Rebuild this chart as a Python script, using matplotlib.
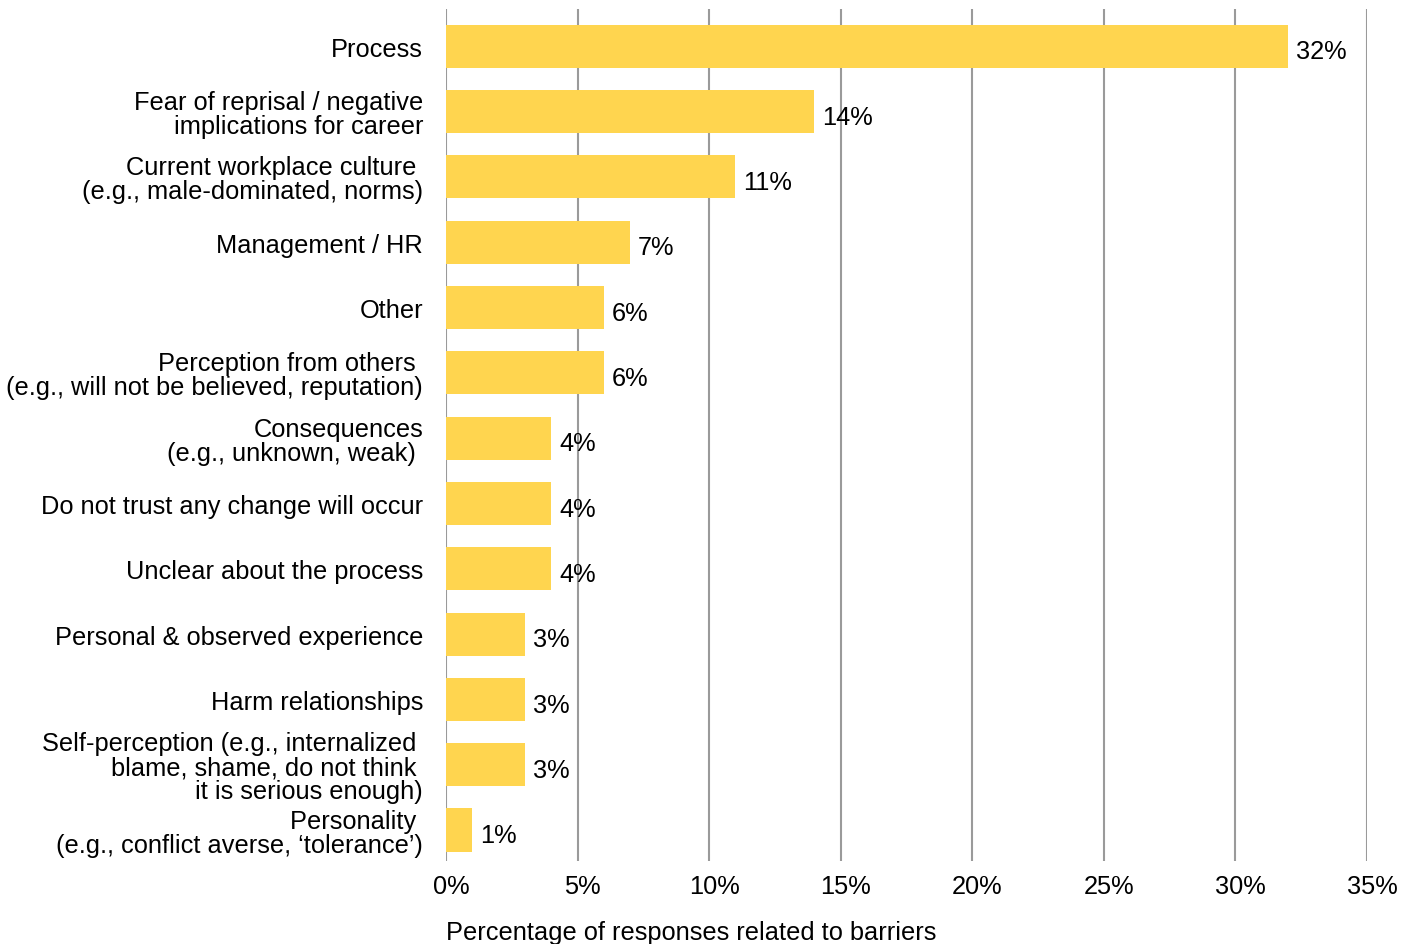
import matplotlib
matplotlib.use("Agg")
import matplotlib.pyplot as plt
from matplotlib.ticker import FuncFormatter
from matplotlib.transforms import ScaledTranslation

# ── Data ──────────────────────────────────────────────────────────────────────

barriers = [
    "Process",
    "Fear of reprisal / negative\nimplications for career",
    "Current workplace culture \n(e.g., male-dominated, norms)",
    "Management / HR",
    "Other",
    "Perception from others \n(e.g., will not be believed, reputation)",
    "Consequences\n(e.g., unknown, weak) ",
    "Do not trust any change will occur",
    "Unclear about the process",
    "Personal & observed experience",
    "Harm relationships",
    "Self-perception (e.g., internalized \nblame, shame, do not think \nit is serious enough)",
    "Personality \n(e.g., conflict averse, \u2018tolerance\u2019)",
]
percent = [32, 14, 11, 7, 6, 6, 4, 4, 4, 3, 3, 3, 1]
x_ticks = [0, 5, 10, 15, 20, 25, 30, 35]

BAR_COLOR = "#FFD54F"
GRID_COLOR = "#9a9a9a"
FS = 18.3

plt.rcParams["font.family"] = ["Liberation Sans", "DejaVu Sans"]

fig = plt.figure(figsize=(14.14, 9.45), dpi=100)
ax = fig.add_axes([0.3154, 0.0878, 0.6514, 0.9016])

pos = list(range(len(barriers)))
ax.barh(pos, percent, height=0.66, color=BAR_COLOR, zorder=1)

for y, v in zip(pos, percent):
    ax.text(v + 0.3, y + 0.08, f"{v}%", va="center", ha="left",
            fontsize=FS, color="black", zorder=3)

ax.set_xlim(0, 35)
ax.set_ylim(len(barriers) - 1 + 0.475, -0.57)
ax.set_xticks(x_ticks)
ax.xaxis.set_major_formatter(FuncFormatter(lambda v, _: f"{v:.0f}%"))
ax.set_yticks(pos)
ax.set_yticklabels(barriers, fontsize=FS, linespacing=1.0)
ax.tick_params(axis="y", length=0, pad=16.5)
ax.tick_params(axis="x", length=0, pad=9, labelsize=FS)

# nudge the percent tick labels slightly right of their gridlines
shift = ScaledTranslation(5 / 100, 0, fig.dpi_scale_trans)
for lbl in ax.get_xticklabels():
    lbl.set_transform(lbl.get_transform() + shift)

ax.grid(axis="x", color=GRID_COLOR, linewidth=1.5, zorder=0)
ax.set_axisbelow(True)
for s in ax.spines.values():
    s.set_visible(False)

ax.set_xlabel("Percentage of responses related to barriers", fontsize=FS,
              loc="left", labelpad=16)

fig.savefig("out.png", dpi=100)
